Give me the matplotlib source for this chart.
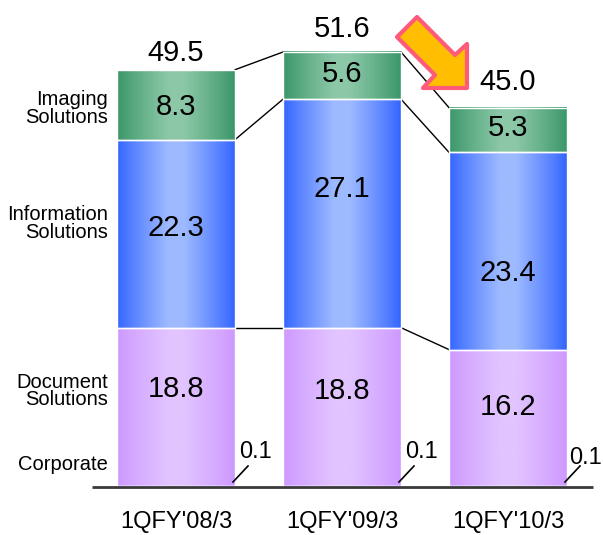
import numpy as np
import matplotlib
matplotlib.use("Agg")
import matplotlib.pyplot as plt
from matplotlib.patches import Polygon, Rectangle

plt.rcParams['font.family'] = ['Liberation Sans', 'DejaVu Sans']

# ---- data ----
categories = ["1QFY'08/3", "1QFY'09/3", "1QFY'10/3"]
segment_names = ["Corporate", "Document\nSolutions", "Information\nSolutions", "Imaging\nSolutions"]
corporate = [0.1, 0.1, 0.1]
document = [18.8, 18.8, 16.2]
information = [22.3, 27.1, 23.4]
imaging = [8.3, 5.6, 5.3]
totals = [49.5, 51.6, 45.0]

# ---- layout (pixel geometry of the reference) ----
W, H = 603, 535
XC0, XSTEP = 176.0, 166.0      # first bar centre, bar spacing (px)
BASE, S = 487.0, 8.43          # baseline y (px from top), px per unit
bar_w = 118 / XSTEP

def px(x, y):
    return ((x - XC0) / XSTEP, (BASE - y) / S)

fig = plt.figure(figsize=(W / 100, H / 100), dpi=100)
ax = fig.add_axes([0, 0, 1, 1])
ax.set_xlim(-XC0 / XSTEP, (W - XC0) / XSTEP)
ax.set_ylim(-(H - BASE) / S, BASE / S)
ax.axis('off')

def grad(edge, centre, n=256):
    u = np.linspace(0, 1, n)
    t = 1 - np.abs(2 * u - 1)
    t = np.clip(t * 1.15, 0, 1) ** 0.9
    e = np.array(edge) / 255.0
    c = np.array(centre) / 255.0
    return (e[None, :] * (1 - t[:, None]) + c[None, :] * t[:, None])[None, :, :]

purple = grad((205, 152, 255), (226, 196, 255))
blue = grad((50, 100, 255), (158, 186, 255))
green = grad((58, 150, 104), (140, 200, 168))

series = [corporate, document, information, imaging]
fills = [purple, purple, blue, green]

x = np.arange(len(categories))
cum = np.zeros(len(categories))
tops = []
for vals, img in zip(series, fills):
    vals = np.array(vals)
    for i in range(len(categories)):
        x0, x1 = x[i] - bar_w / 2, x[i] + bar_w / 2
        y0, y1 = cum[i], cum[i] + vals[i]
        ax.imshow(img, extent=[x0, x1, y0, y1], aspect='auto',
                  interpolation='bicubic', zorder=2)
        ax.add_patch(Rectangle((x0, y0), bar_w, vals[i], fill=False,
                               edgecolor='white', lw=1.0, zorder=3))
    cum = cum + vals
    tops.append(cum.copy())

# connector lines between bars
for level in tops[1:]:
    for i in range(len(categories) - 1):
        ax.plot([x[i] + bar_w / 2, x[i + 1] - bar_w / 2], [level[i], level[i + 1]],
                color='black', lw=1.0, zorder=1)

# baseline
bx0, _ = px(92, 0)
bx1, _ = px(593, 0)
ax.plot([bx0, bx1], [0, 0], color='#3a3a3a', lw=2, zorder=4, solid_capstyle='butt')

# segment value labels (small px offsets from segment centres)
FS = 21
CAP = FS * 100 / 72 * 0.716 / 2          # half cap height in px
doc_off = [-20, -18, -13]
info_off = [-8, -27, 20]
img_off = [0, -4, -4]
tot_gap = [9, 15, 18]
corp_dy = [0, 0, 6]
corp_dx = [4, 4, 2]
for i in range(len(categories)):
    mid = corporate[i] + document[i] / 2
    ax.text(x[i], mid - (doc_off[i] + CAP) / S, f"{document[i]:.1f}", ha='center',
            va='baseline', fontsize=FS, zorder=5)
    mid = corporate[i] + document[i] + information[i] / 2
    ax.text(x[i], mid - (info_off[i] + CAP) / S, f"{information[i]:.1f}", ha='center',
            va='baseline', fontsize=FS, zorder=5)
    mid = corporate[i] + document[i] + information[i] + imaging[i] / 2
    ax.text(x[i], mid - (img_off[i] + CAP) / S, f"{imaging[i]:.1f}", ha='center',
            va='baseline', fontsize=FS, zorder=5)
    ax.text(x[i], totals[i] + tot_gap[i] / S, f"{totals[i]:.1f}", ha='center',
            va='baseline', fontsize=FS, zorder=5)
    # corporate label with leader line
    rx = x[i] + bar_w / 2
    ax.plot([rx - 2 / XSTEP, rx + 13 / XSTEP], [5 / S, 21 / S],
            color='black', lw=1.2, zorder=5)
    ax.text(rx + corp_dx[i] / XSTEP, (29 - corp_dy[i]) / S, f"{corporate[i]:.1f}",
            ha='left', va='baseline', fontsize=17, zorder=5)
    # category label
    ax.text(x[i], -(528 - BASE) / S, categories[i], ha='center', va='baseline', fontsize=17)

# left segment labels (baseline of last line, px)
left_y = [470, 405, 238, 123]
for name, yy in zip(segment_names, left_y):
    lx, ly = px(108, yy)
    ax.text(lx, ly, name, ha='right', va='baseline', fontsize=14.5, linespacing=0.9)

# decorative arrow
arrow_px = [(397, 37), (417, 17), (455, 55), (467, 44), (467, 88), (423, 88), (435, 75)]
ax.add_patch(Polygon([px(a, b) for a, b in arrow_px], closed=True,
                     facecolor='#ffbf00', edgecolor='#ff5a7a', lw=3,
                     joinstyle='round', zorder=6))

fig.savefig('out.png', dpi=100)
